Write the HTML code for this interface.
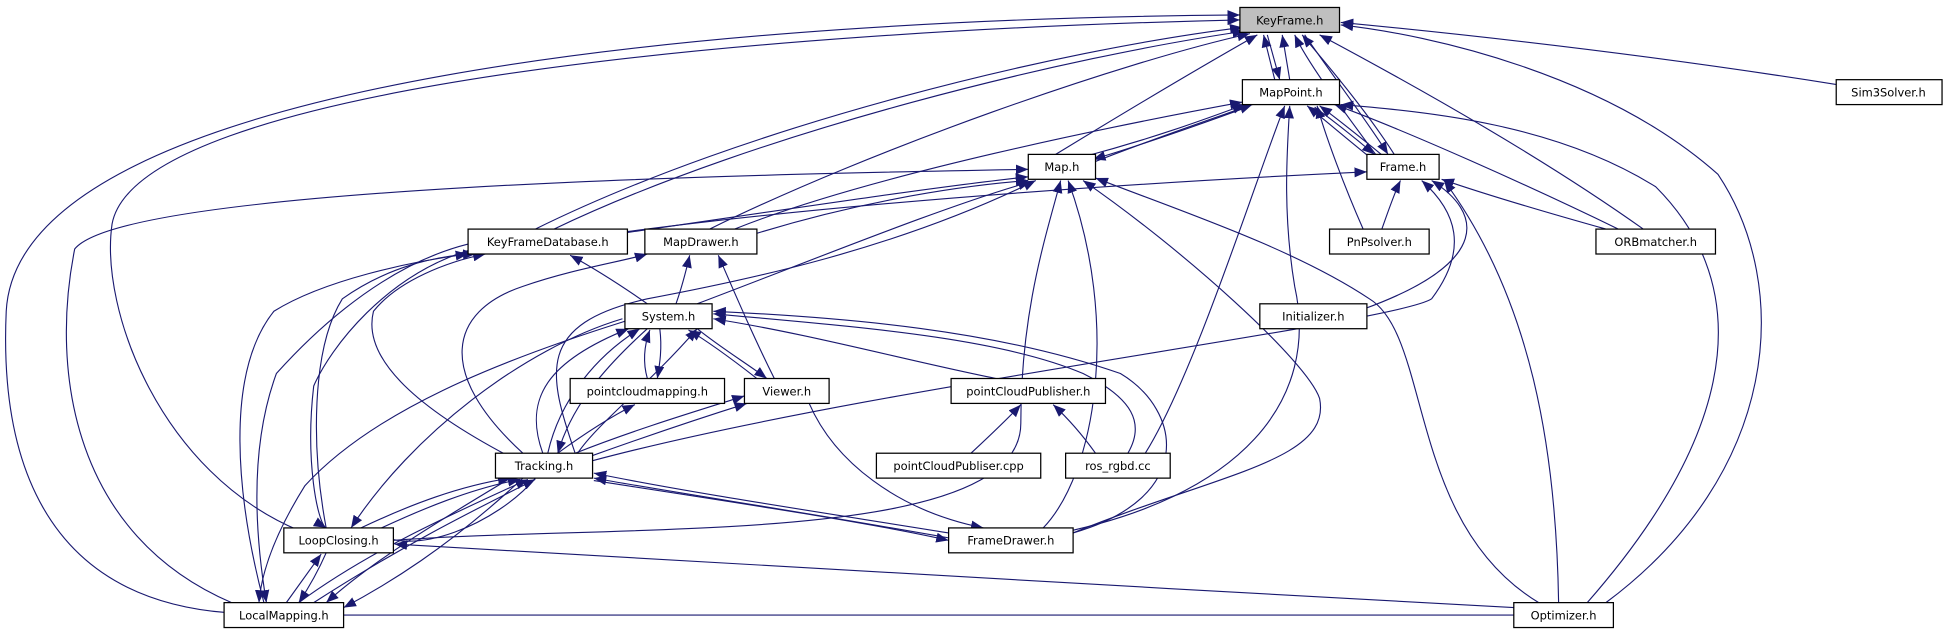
<!DOCTYPE html>
<html><head><meta charset="utf-8"><style>
html,body{margin:0;padding:0;background:#fff;width:1952px;height:635px;overflow:hidden}
svg{display:block}
text{font-family:"DejaVu Sans","Liberation Sans",sans-serif;font-size:9.2px;fill:#000}
.n{fill:#fff;stroke:#000;stroke-width:1}
.e{fill:none;stroke:#191970;stroke-width:0.9;marker-end:url(#a)}
.p{fill:none;stroke:#191970;stroke-width:0.9}
</style></head><body>
<svg width="1952" height="635" viewBox="0 0 1568 510" preserveAspectRatio="none">
<defs><marker id="a" viewBox="0 0 10 8" refX="10" refY="4" markerWidth="10" markerHeight="8" markerUnits="userSpaceOnUse" orient="auto"><path d="M0,0 L10,4 L0,8 z" fill="#191970"/></marker></defs>
<g>
<path class="e" d="M1024,64 L1015,28"/>
<path class="e" d="M1018,28 L1028,64"/>
<path class="e" d="M1036,64 L1030,28"/>
<path class="e" d="M1476,68 C1300,40 1150,25 1077,18"/>
<path class="e" d="M848,124 C920,80 980,45 1010,28"/>
<path class="e" d="M1105,124 C1080,90 1050,50 1040,28"/>
<path class="e" d="M1048,28 C1070,60 1100,100 1115,124"/>
<path class="e" d="M1120,124 C1095,85 1060,45 1046,28"/>
<path class="e" d="M430,184 C600,100 850,40 998,22"/>
<path class="e" d="M445,184 C610,105 860,45 1000,25"/>
<path class="e" d="M570,184 C700,120 900,50 1004,27"/>
<path class="e" d="M1320,184 C1230,120 1120,60 1060,28"/>
<path class="e" d="M1290,484 C1430,380 1440,230 1380,140 C1290,60 1150,28 1077,20"/>
<path class="e" d="M240,426 C130,380 80,250 90,180 C110,70 600,25 996,16"/>
<path class="e" d="M182,492 C30,480 0,360 5,250 C15,60 600,15 996,12"/>
<path class="e" d="M870,126 C930,110 970,95 1000,84"/>
<path class="e" d="M1002,86 C950,105 905,120 878,128"/>
<path class="e" d="M874,132 C930,110 975,95 1006,84"/>
<path class="e" d="M1100,126 C1080,110 1065,97 1050,85"/>
<path class="e" d="M1056,86 C1075,100 1090,112 1104,124"/>
<path class="e" d="M1112,126 C1090,108 1075,96 1060,85"/>
<path class="e" d="M1095,184 C1080,150 1065,110 1058,85"/>
<path class="e" d="M1300,184 C1230,150 1130,105 1072,84"/>
<path class="e" d="M1275,484 C1410,330 1400,220 1330,150 C1250,100 1150,90 1077,84"/>
<path class="e" d="M920,364 C960,300 1010,140 1032,85"/>
<path class="e" d="M842,430 C1000,400 1060,320 1040,230 C1030,170 1034,120 1036,85"/>
<path class="e" d="M590,184 C700,140 900,100 998,82"/>
<path class="e" d="M502,187 C620,170 750,150 826,142"/>
<path class="e" d="M606,188 C680,165 760,150 826,145"/>
<path class="e" d="M560,244 C650,210 760,165 828,146"/>
<path class="e" d="M462,364 C440,300 430,260 520,240 C600,225 720,200 832,145"/>
<path class="e" d="M316,434 C500,420 820,440 820,340 C820,250 840,190 852,145"/>
<path class="e" d="M186,484 C60,430 40,300 60,200 C100,150 600,140 826,136"/>
<path class="e" d="M838,424 C880,380 900,260 858,145"/>
<path class="e" d="M862,428 C980,380 1070,370 1060,320 C1050,290 950,200 870,145"/>
<path class="e" d="M1236,484 C1130,420 1150,270 1100,240 C1040,200 950,170 880,143"/>
<path class="e" d="M504,186 C700,160 950,145 1098,138"/>
<path class="e" d="M1110,184 C1115,170 1120,155 1125,145"/>
<path class="e" d="M1290,184 C1240,170 1190,155 1158,144"/>
<path class="e" d="M1096,248 C1200,210 1190,170 1150,145"/>
<path class="e" d="M476,370 C700,310 1120,260 1150,240 C1180,200 1170,170 1142,145"/>
<path class="e" d="M1252,484 C1250,360 1230,240 1160,145"/>
<path class="e" d="M520,244 C500,230 480,217 458,205"/>
<path class="e" d="M408,366 C340,330 290,290 300,250 C320,225 360,210 390,204"/>
<path class="e" d="M262,424 C250,360 250,280 275,240 C310,215 350,205 382,204"/>
<path class="e" d="M212,484 C190,400 180,300 220,250 C260,225 330,210 376,204"/>
<path class="e" d="M376,196 C300,215 240,280 222,300 C200,360 205,430 214,484"/>
<path class="e" d="M380,200 C310,220 265,280 252,310 C245,370 255,420 262,424"/>
<path class="e" d="M543,244 C548,230 551,218 554,205"/>
<path class="e" d="M622,304 C605,270 590,235 577,205"/>
<path class="e" d="M420,364 C350,300 360,250 420,230 C460,216 500,210 520,204"/>
<path class="e" d="M520,304 C516,290 518,276 522,265"/>
<path class="e" d="M530,264 C532,280 530,292 528,304"/>
<path class="e" d="M608,304 C590,290 570,275 553,265"/>
<path class="e" d="M560,264 C580,280 600,292 616,304"/>
<path class="e" d="M440,364 C450,320 480,285 514,264"/>
<path class="e" d="M520,264 C480,300 458,330 448,364"/>
<path class="e" d="M436,364 C420,320 440,290 505,264"/>
<path class="e" d="M500,256 C420,280 330,350 282,424"/>
<path class="e" d="M502,258 C400,290 300,330 245,390 C220,430 210,460 208,484"/>
<path class="e" d="M800,304 C730,290 650,268 573,256"/>
<path class="e" d="M906,364 C920,340 910,320 870,300 C800,270 680,262 573,252"/>
<path class="e" d="M862,428 C960,400 950,330 900,300 C800,265 680,255 573,250"/>
<path class="e" d="M448,364 C470,348 490,335 510,325"/>
<path class="e" d="M462,364 C510,345 560,330 598,318"/>
<path class="e" d="M470,368 C520,350 565,335 600,324"/>
<path class="e" d="M780,364 C795,350 808,338 820,325"/>
<path class="e" d="M880,364 C870,350 860,338 846,325"/>
<path class="e" d="M650,324 C670,370 720,410 790,424"/>
<path class="e" d="M464,364 C480,340 520,310 560,264"/>
<path class="e" d="M290,424 C330,405 370,390 410,384"/>
<path class="e" d="M298,428 C340,408 380,392 418,385"/>
<path class="e" d="M240,484 C300,440 370,410 424,385"/>
<path class="e" d="M252,484 C320,440 380,410 430,385"/>
<path class="e" d="M762,428 C650,410 550,395 477,380"/>
<path class="e" d="M762,432 C650,412 550,397 477,384"/>
<path class="e" d="M477,386 C600,405 700,420 762,434"/>
<path class="e" d="M230,484 C240,470 250,456 258,445"/>
<path class="e" d="M262,444 C255,460 248,472 240,484"/>
<path class="e" d="M410,384 C350,420 300,450 262,484"/>
<path class="e" d="M420,384 C360,440 310,470 276,488"/>
<path class="e" d="M430,384 C400,420 330,450 300,426"/>
<path class="e" d="M1216,488 C900,470 500,450 317,437"/>
<path class="p" d="M276,494 L1216,494"/>
</g>
<g>
<rect x="996" y="6" width="80" height="20" fill="#bfbfbf" stroke="#000"/><text x="1036" y="19.5" text-anchor="middle">KeyFrame.h</text>
<rect class="n" x="998" y="64" width="78" height="20"/><text x="1037" y="77.5" text-anchor="middle">MapPoint.h</text>
<rect class="n" x="1475" y="64" width="85" height="20"/><text x="1517" y="77.5" text-anchor="middle">Sim3Solver.h</text>
<rect class="n" x="826" y="124" width="54" height="20"/><text x="853" y="137.5" text-anchor="middle">Map.h</text>
<rect class="n" x="1098" y="124" width="58" height="20"/><text x="1127" y="137.5" text-anchor="middle">Frame.h</text>
<rect class="n" x="376" y="184" width="128" height="20"/><text x="440" y="197.5" text-anchor="middle">KeyFrameDatabase.h</text>
<rect class="n" x="518" y="184" width="90" height="20"/><text x="563" y="197.5" text-anchor="middle">MapDrawer.h</text>
<rect class="n" x="1068" y="184" width="80" height="20"/><text x="1108" y="197.5" text-anchor="middle">PnPsolver.h</text>
<rect class="n" x="1282" y="184" width="96" height="20"/><text x="1330" y="197.5" text-anchor="middle">ORBmatcher.h</text>
<rect class="n" x="502" y="244" width="70" height="20"/><text x="537" y="257.5" text-anchor="middle">System.h</text>
<rect class="n" x="1012" y="244" width="86" height="20"/><text x="1055" y="257.5" text-anchor="middle">Initializer.h</text>
<rect class="n" x="458" y="304" width="124" height="20"/><text x="520" y="317.5" text-anchor="middle">pointcloudmapping.h</text>
<rect class="n" x="598" y="304" width="68" height="20"/><text x="632" y="317.5" text-anchor="middle">Viewer.h</text>
<rect class="n" x="764" y="304" width="124" height="20"/><text x="826" y="317.5" text-anchor="middle">pointCloudPublisher.h</text>
<rect class="n" x="704" y="364" width="132" height="20"/><text x="770" y="377.5" text-anchor="middle">pointCloudPubliser.cpp</text>
<rect class="n" x="856" y="364" width="84" height="20"/><text x="898" y="377.5" text-anchor="middle">ros_rgbd.cc</text>
<rect class="n" x="398" y="364" width="78" height="20"/><text x="437" y="377.5" text-anchor="middle">Tracking.h</text>
<rect class="n" x="228" y="424" width="88" height="20"/><text x="272" y="437.5" text-anchor="middle">LoopClosing.h</text>
<rect class="n" x="762" y="424" width="100" height="20"/><text x="812" y="437.5" text-anchor="middle">FrameDrawer.h</text>
<rect class="n" x="180" y="484" width="96" height="20"/><text x="228" y="497.5" text-anchor="middle">LocalMapping.h</text>
<rect class="n" x="1216" y="484" width="80" height="20"/><text x="1256" y="497.5" text-anchor="middle">Optimizer.h</text>
</g>
</svg>
</body></html>
